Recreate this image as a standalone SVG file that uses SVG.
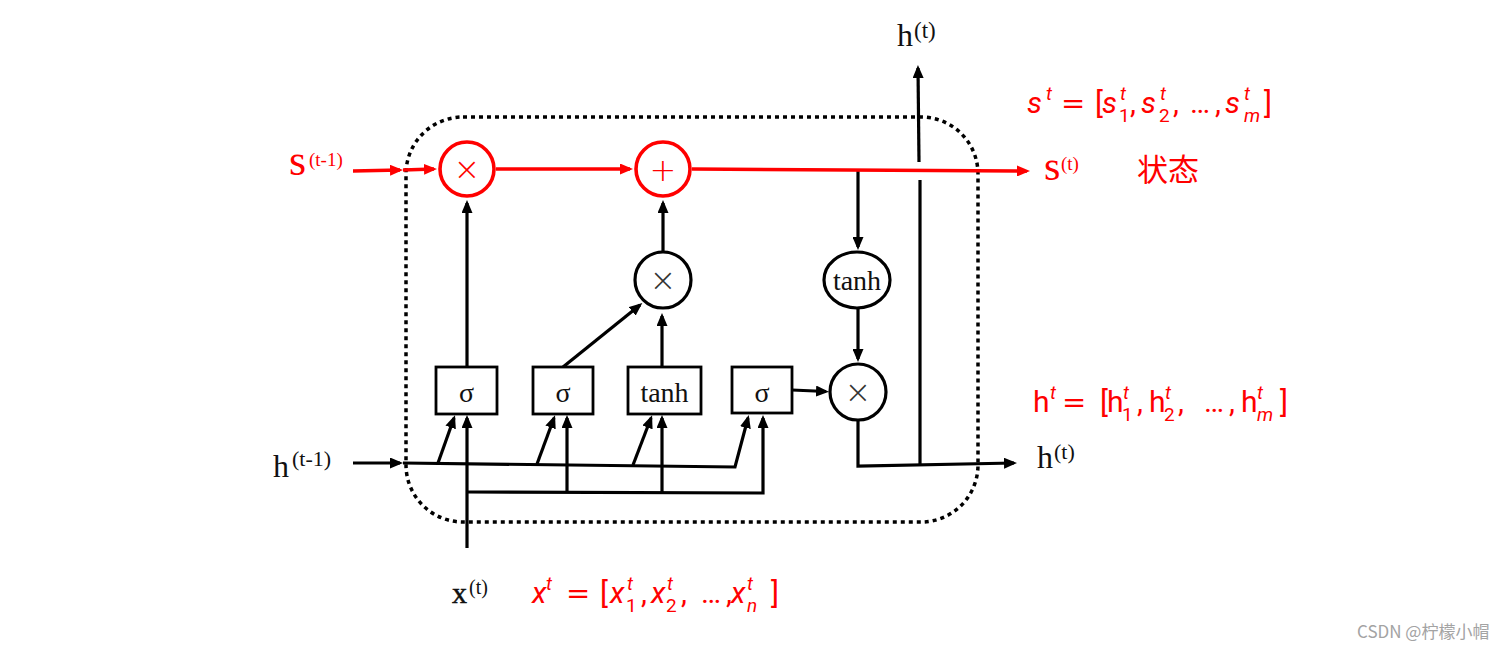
<svg xmlns="http://www.w3.org/2000/svg" width="1508" height="650" viewBox="0 0 1508 650">
<defs>
<style>
.lbl{font-family:"Liberation Serif","Times New Roman",serif;fill:#111}
.rl{font-family:"Liberation Serif","Times New Roman",serif;fill:#f00}
.f{font-family:Roboto,"Liberation Sans",sans-serif;font-size:30px;fill:#f00}
.sm{font-size:19px}
.it{font-style:italic}
.eq{font-family:"DejaVu Sans","Liberation Sans",sans-serif;font-size:29px}
.ln{fill:none;stroke:#000;stroke-width:3.2;stroke-linejoin:miter}
.arr{marker-end:url(#ab)}
.rln{fill:none;stroke:#f00;stroke-width:3.5;marker-end:url(#ar)}
.box{fill:#fff;stroke:#000;stroke-width:2.8}
.bc{fill:#fff;stroke:#000;stroke-width:3.2}
.rc{fill:#fff;stroke:#f00;stroke-width:3.6}
.op{font-family:"DejaVu Sans","Liberation Sans",sans-serif;font-weight:200;text-anchor:middle}
.bt{font-family:"Liberation Serif","Times New Roman",serif;font-size:28px;fill:#111;text-anchor:middle}
</style>
<marker id="ab" markerUnits="userSpaceOnUse" markerWidth="13" markerHeight="11" refX="10" refY="5.5" orient="auto"><path d="M0,0 L13,5.5 L0,11 z" fill="#000"/></marker>
<marker id="ar" markerUnits="userSpaceOnUse" markerWidth="13" markerHeight="11" refX="10" refY="5.5" orient="auto"><path d="M0,0 L13,5.5 L0,11 z" fill="#f00"/></marker>
</defs>
<rect width="1508" height="650" fill="#fff"/>
<g id="cell-boundary">
<rect x="406" y="117" width="572" height="405" rx="57" ry="57" fill="none" stroke="#000" stroke-width="3.5" stroke-dasharray="4 4"/>
</g>
<g id="connectors">
<path class="ln arr" d="M467,548 L467,418"/>
<path class="ln arr" d="M467,492 L763,493 L763,418"/>
<path class="ln arr" d="M567,492 L567,418"/>
<path class="ln arr" d="M662,492 L662,418"/>
<path class="ln arr" d="M353,463 L400,463"/>
<path class="ln arr" d="M403,463 L735,467 L748,418"/>
<path class="ln arr" d="M438,463 L454,418"/>
<path class="ln arr" d="M537,464 L554,418"/>
<path class="ln arr" d="M633,465 L651,418"/>
<path class="ln arr" d="M467,367 L467,203"/>
<path class="ln arr" d="M563,367 L640,305"/>
<path class="ln arr" d="M662,367 L662,316"/>
<path class="ln arr" d="M663,251 L663,203"/>
<path class="ln arr" d="M858,170 L858,247"/>
<path class="ln arr" d="M858,309 L858,359"/>
<path class="ln arr" d="M792,390 L826,391.5"/>
<path class="ln arr" d="M858,421 L858,466 L1014,463"/>
<path class="ln" d="M920,466 L920,180"/>
<path class="ln arr" d="M919,162 L918,68"/>
<path class="rln" d="M353,171 L400,170"/>
<path class="rln" d="M403,170 L434,169"/>
<path class="rln" d="M496,169 L630,169"/>
<path class="rln" d="M692,169 L1027,171"/>
</g>
<g id="forget-mul"><circle class="rc" cx="467" cy="169" r="27"/><text class="op" x="467" y="180" font-size="32" fill="#f00">×</text></g>
<g id="state-add"><circle class="rc" cx="663" cy="169" r="27"/><text class="op" x="663" y="181" font-size="32" fill="#f00">+</text></g>
<g id="input-mul"><circle class="bc" cx="663" cy="280" r="28"/><text class="op" x="663" y="291" font-size="32" fill="#333">×</text></g>
<g id="state-tanh"><ellipse class="bc" cx="857" cy="280" rx="33" ry="28"/><text class="bt" x="857" y="290" font-size="26">tanh</text></g>
<g id="output-mul"><circle class="bc" cx="858" cy="392" r="28"/><text class="op" x="858" y="403" font-size="32" fill="#333">×</text></g>
<g id="forget-gate"><rect class="box" x="436" y="367" width="61" height="47"/><text class="bt" x="466.5" y="402">σ</text></g>
<g id="input-gate"><rect class="box" x="533" y="367" width="60" height="47"/><text class="bt" x="563" y="402">σ</text></g>
<g id="candidate"><rect class="box" x="628" y="367" width="73" height="47"/><text class="bt" x="664.5" y="402">tanh</text></g>
<g id="output-gate"><rect class="box" x="732" y="367" width="60" height="46"/><text class="bt" x="762" y="402">σ</text></g>
<g id="label-s-prev"><text class="rl" x="289" y="175" font-size="44">s<tspan x="309" y="166" font-size="19">(t-1)</tspan></text></g>
<g id="label-h-prev"><text class="lbl" x="273" y="477" font-size="32">h<tspan x="292" y="466" font-size="22">(t-1)</tspan></text></g>
<g id="label-x"><text class="lbl" x="452" y="603" font-size="30" stroke="#111" stroke-width="0.5">x<tspan x="469" y="594" font-size="20" stroke-width="0">(t)</tspan></text></g>
<g id="label-h-top"><text class="lbl" x="897" y="46" font-size="32">h<tspan x="914" y="38" font-size="23">(t)</tspan></text></g>
<g id="label-s-out"><text class="rl" x="1044" y="180" font-size="42">s<tspan x="1061" y="170" font-size="19">(t)</tspan></text></g>
<g id="label-h-out"><text class="lbl" x="1037" y="468" font-size="32">h<tspan x="1054" y="459" font-size="22">(t)</tspan></text></g>
<g id="label-state"><text x="1137" y="181" font-family="'Noto Sans CJK SC',sans-serif" font-size="31" fill="#f00">状态</text></g>
<g id="formula-s"><text class="f" y="113"><tspan class="it" x="1027">s</tspan><tspan class="sm it" x="1046" y="100">t</tspan><tspan class="eq" x="1061" y="113">=</tspan><tspan x="1095">[</tspan><tspan class="it" x="1102">s</tspan><tspan class="sm it" x="1120" y="100">t</tspan><tspan class="sm" x="1119" y="122">1</tspan><tspan x="1130" y="113">,</tspan><tspan class="it" x="1141">s</tspan><tspan class="sm it" x="1160" y="100">t</tspan><tspan class="sm" x="1159" y="122">2</tspan><tspan x="1173" y="113">,</tspan><tspan x="1190">…</tspan><tspan x="1215">,</tspan><tspan class="it" x="1225">s</tspan><tspan class="sm it" x="1244" y="100">t</tspan><tspan class="sm it" x="1244" y="122">m</tspan><tspan x="1264" y="113">]</tspan></text></g>
<g id="formula-h"><text class="f" y="412"><tspan x="1033">h</tspan><tspan class="sm it" x="1050" y="399">t</tspan><tspan class="eq" x="1062" y="412">=</tspan><tspan x="1100">[</tspan><tspan x="1107">h</tspan><tspan class="sm it" x="1123" y="399">t</tspan><tspan class="sm" x="1122" y="421">1</tspan><tspan x="1137" y="412">,</tspan><tspan x="1149">h</tspan><tspan class="sm it" x="1165" y="399">t</tspan><tspan class="sm" x="1164" y="421">2</tspan><tspan x="1178" y="412">,</tspan><tspan x="1204">…</tspan><tspan x="1229">,</tspan><tspan x="1241">h</tspan><tspan class="sm it" x="1257" y="399">t</tspan><tspan class="sm it" x="1257" y="421">m</tspan><tspan x="1280" y="412">]</tspan></text></g>
<g id="formula-x"><text class="f" y="603"><tspan class="it" x="532">x</tspan><tspan class="sm it" x="546" y="590">t</tspan><tspan class="eq" x="566" y="603">=</tspan><tspan x="600">[</tspan><tspan class="it" x="610">x</tspan><tspan class="sm it" x="627" y="590">t</tspan><tspan class="sm" x="626" y="612">1</tspan><tspan x="641" y="603">,</tspan><tspan class="it" x="651">x</tspan><tspan class="sm it" x="667" y="590">t</tspan><tspan class="sm" x="666" y="612">2</tspan><tspan x="681" y="603">,</tspan><tspan x="701">…</tspan><tspan x="726">,</tspan><tspan class="it" x="731">x</tspan><tspan class="sm it" x="747" y="590">t</tspan><tspan class="sm it" x="747" y="612">n</tspan><tspan x="771" y="603">]</tspan></text></g>
<g id="watermark"><text x="1357" y="638" font-family="'Noto Sans CJK SC',sans-serif" font-size="17" fill="#a3a3a3">CSDN @柠檬小帽</text></g>
</svg>
